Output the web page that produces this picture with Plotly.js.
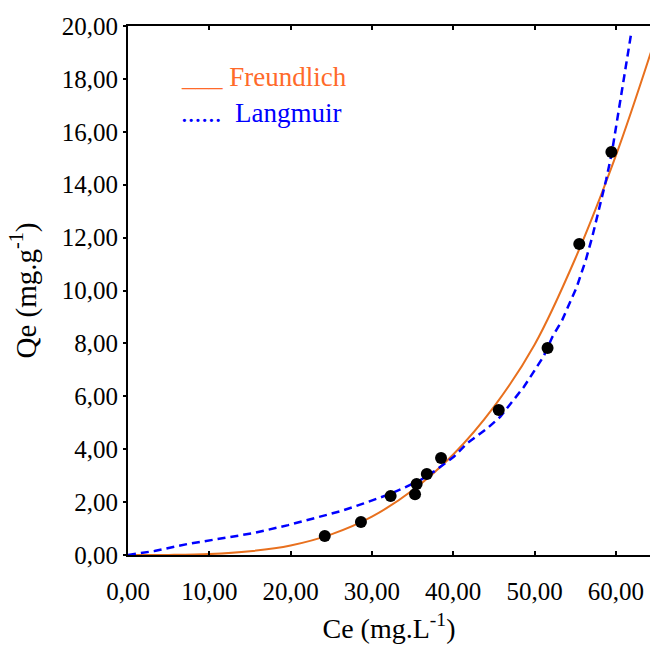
<!DOCTYPE html>
<html>
<head>
<meta charset="utf-8">
<script src="https://cdn.plot.ly/plotly-3.0.1.min.js"></script>
<style>
html,body{margin:0;padding:0;background:#fff;}
#chart{width:650px;height:648px;}
</style>
</head>
<body>
<div id="chart"></div>
<script>
// Experimental points
const ceData = [24.2, 28.65, 32.3, 35.3, 35.5, 36.75, 38.5, 45.6, 51.6, 55.5, 59.45];
const qeData = [0.72, 1.25, 2.23, 2.3, 2.68, 3.06, 3.67, 5.48, 7.83, 11.76, 15.24];

// Freundlich curve
const ceFreundlich = [0, 5, 10, 15, 20, 25, 30, 35, 40, 45, 50, 55, 60, 64.3];
const qeFreundlich = [0, 0.003, 0.034, 0.14, 0.36, 0.78, 1.45, 2.45, 3.8, 5.6, 7.95, 11.2, 15.1, 19.0];

// Langmuir curve
const ceLangmuir = [0, 3.25, 7.4, 11.5, 15.5, 19.7, 23.7, 26.2, 29, 31.9, 33.9, 36, 37.6, 40.1, 41.7, 44.2, 45.8, 48.7, 51.1, 52.2, 53.4, 55.2, 56.3, 57.1, 57.9, 58.8, 59.5, 60.3, 61.0, 61.9];
const qeLangmuir = [0, 0.15, 0.42, 0.64, 0.83, 1.13, 1.44, 1.66, 1.95, 2.27, 2.53, 2.84, 3.15, 3.72, 4.22, 4.79, 5.23, 6.36, 7.5, 8.25, 8.88, 10.14, 11.15, 12.03, 13.04, 14.18, 15.19, 16.7, 18.1, 19.75];

const xTicks = [0, 10, 20, 30, 40, 50, 60];
const yTicks = [0, 2, 4, 6, 8, 10, 12, 14, 16, 18, 20];

const FONT = "Liberation Serif";

const traces = [
  {x: ceFreundlich, y: qeFreundlich, mode: 'lines', line: {color: '#E8701E', width: 2, shape: 'spline'}, hoverinfo: 'skip'},
  {x: ceLangmuir, y: qeLangmuir, mode: 'lines', line: {color: '#0000FF', width: 2.5, dash: '8px,5px'}, hoverinfo: 'skip'},
  {x: ceData, y: qeData, mode: 'markers', marker: {color: '#000', size: 12}}
];

const layout = {
  width: 650, height: 648,
  margin: {l: 128, r: 0, t: 26, b: 93, pad: 0},
  paper_bgcolor: '#fff', plot_bgcolor: '#fff',
  separators: ',.',
  showlegend: false,
  font: {family: FONT, color: '#000', size: 25},
  xaxis: {
    range: [0, 64.2], tickvals: xTicks, tickformat: '.2f',
    ticks: 'inside', ticklen: 4, tickwidth: 2, tickcolor: '#000',
    showline: true, linecolor: '#000', linewidth: 2, mirror: 'ticks',
    showgrid: false, zeroline: false,
    tickfont: {family: FONT, size: 25, color: '#000'},
    ticklabelstandoff: 13,
    title: {text: 'Ce (mg.L<sup>-1</sup>)', font: {family: FONT, size: 28, color: '#000'}, standoff: 14}
  },
  yaxis: {
    range: [0, 20], tickvals: yTicks, tickformat: '.2f',
    ticks: 'outside', ticklen: 3, tickwidth: 2, tickcolor: '#000',
    showline: true, linecolor: '#000', linewidth: 2, mirror: false,
    showgrid: false, zeroline: false,
    tickfont: {family: FONT, size: 25, color: '#000'},
    title: {text: 'Qe (mg.g<sup>-1</sup>)', font: {family: FONT, size: 29, color: '#000'}, standoff: 17}
  },
  annotations: [
    {xref: 'paper', yref: 'paper', x: 0.098, y: 0.903, xanchor: 'left', yanchor: 'middle', showarrow: false,
     text: '___ Freundlich', font: {family: FONT, size: 27, color: '#FF6A2A'}},
    {xref: 'paper', yref: 'paper', x: 0.098, y: 0.836, xanchor: 'left', yanchor: 'middle', showarrow: false,
     text: '......  Langmuir', font: {family: FONT, size: 27, color: '#0000FF'}}
  ]
};

Plotly.newPlot('chart', traces, layout, {displayModeBar: false, staticPlot: true});
</script>
</body>
</html>
